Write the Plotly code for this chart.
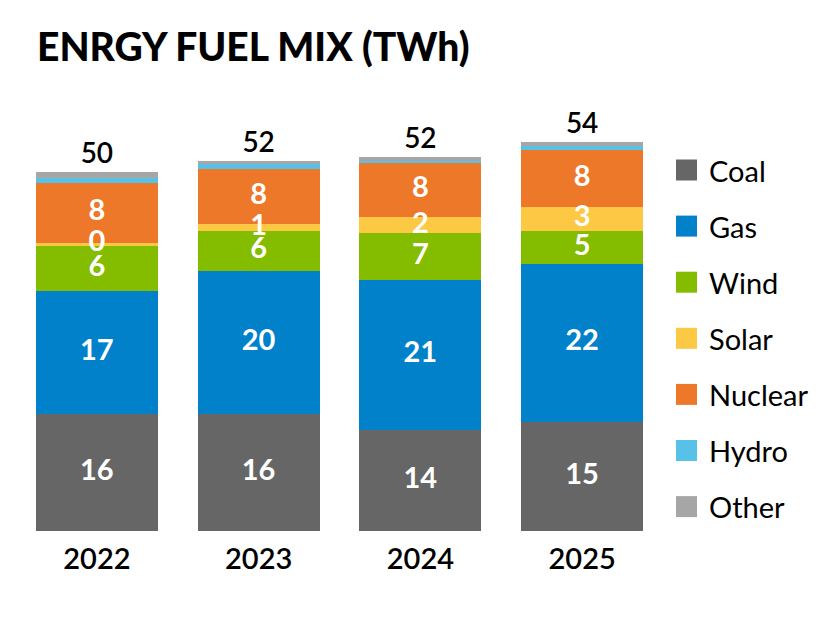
import plotly.graph_objects as go

# ====================== data ======================
years = ["2022", "2023", "2024", "2025"]
fuels = ["Coal", "Gas", "Wind", "Solar", "Nuclear", "Hydro", "Other"]
coal = [16.36, 16.36, 14.1, 15.2]
gas = [17.16, 19.96, 20.9, 22.06]
wind = [6.34, 5.6, 6.6, 4.6]
solar = [0.4, 0.98, 2.2, 3.4]
nuclear = [8.39, 7.6, 7.6, 7.9]
hydro = [0.66, 0.7, 0.3, 0.56]
other = [0.84, 0.46, 0.5, 0.56]
colors = ["#666666", "#0081C9", "#84BC00", "#FDC843", "#ED7829", "#57C1E8", "#A6A6A6"]
labelled = [True, True, True, True, True, False, False]

series = [coal, gas, wind, solar, nuclear, hydro, other]
totals = [sum(v) for v in zip(*series)]

# ====================== layout numbers (px) ======================
# the page puts the plot 8px in from the top-left corner
W, H = 826, 620
ml, mr, mt, mb = 8, 171, 92, 97
y_max = 60.2
FONT = "Lato"


def px_x(px):
    return (px - ml) / (W - ml - mr)


def px_y(py):
    return 1 - (py - mt) / (H - mt - mb)


fig = go.Figure()

base = [0.0] * len(years)
label_x, label_y, label_txt = [], [], []
for name, vals, col, lab in zip(fuels, series, colors, labelled):
    fig.add_trace(
        go.Bar(
            x=years,
            y=vals,
            name=name,
            marker=dict(color=col, line=dict(width=0)),
            showlegend=False,
            hoverinfo="x+y+name",
        )
    )
    if lab:
        for yr, b, v in zip(years, base, vals):
            label_x.append(yr)
            label_y.append(b + v / 2)
            label_txt.append(f"{v:.0f}")
    base = [b + v for b, v in zip(base, vals)]

# segment values, drawn on top of every bar
fig.add_trace(
    go.Scatter(
        x=label_x,
        y=label_y,
        mode="text",
        text=label_txt,
        textposition="middle center",
        textfont=dict(family=FONT, size=29, color="white", weight="bold"),
        showlegend=False,
        hoverinfo="skip",
    )
)

# totals on top
fig.add_trace(
    go.Scatter(
        x=years,
        y=totals,
        mode="markers+text",
        marker=dict(size=2, opacity=0),
        text=[f"{t:.0f}" for t in totals],
        textposition="top center",
        textfont=dict(family=FONT, size=28, color="black", weight=600),
        showlegend=False,
        hoverinfo="skip",
    )
)

# legend drawn by hand (bigger swatches than plotly allows)
sq = 21
for i, (name, col) in enumerate(zip(fuels, colors)):
    cy = 162 + i * 56.1
    fig.add_shape(
        type="rect",
        xref="paper",
        yref="paper",
        x0=px_x(668),
        x1=px_x(668 + sq),
        y0=px_y(cy + sq / 2),
        y1=px_y(cy - sq / 2),
        fillcolor=col,
        line=dict(width=0),
    )
    fig.add_annotation(
        xref="paper",
        yref="paper",
        x=px_x(699),
        y=px_y(cy),
        xanchor="left",
        yanchor="middle",
        text=name,
        showarrow=False,
        font=dict(family=FONT, size=29, color="black"),
    )

fig.update_layout(
    width=W,
    height=H,
    margin=dict(l=ml, r=mr, t=mt, b=mb),
    barmode="stack",
    bargap=0.247,
    plot_bgcolor="white",
    paper_bgcolor="white",
    title=dict(
        text="ENRGY FUEL MIX (TWh)",
        font=dict(family=FONT, size=39, color="black", weight=900),
        x=29 / W,
        xanchor="left",
        xref="container",
        y=1 - 39 / H,
        yanchor="middle",
        yref="container",
    ),
    xaxis=dict(
        showline=False,
        showgrid=False,
        ticks="",
        ticklabelstandoff=8,
        tickfont=dict(family=FONT, size=29, color="black", weight=600),
    ),
    yaxis=dict(visible=False, range=[0, y_max]),
)

fig.write_html("out.html")
